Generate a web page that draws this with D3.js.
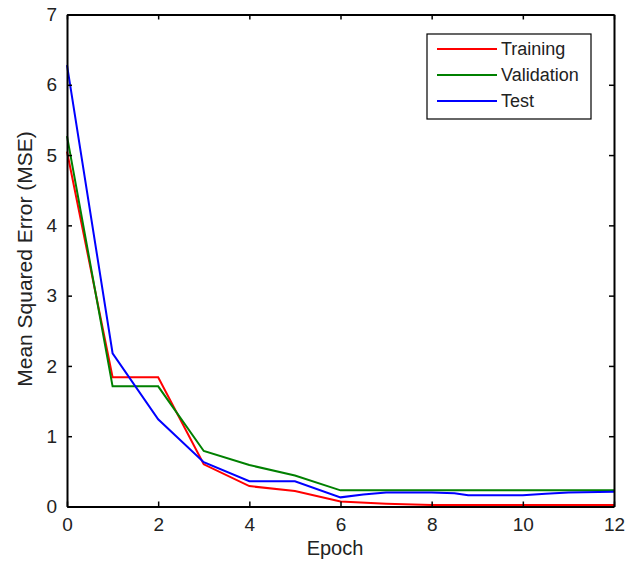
<!DOCTYPE html>
<html>
<head>
<meta charset="UTF-8">
<script src="https://d3js.org/d3.v7.min.js"></script>
<style>
  body { margin: 0; background: #fff; }
  text { font-family: "Liberation Sans", Arial, sans-serif; fill: #222; }
</style>
</head>
<body>
<svg width="634" height="562"></svg>
<script>
// data
var trainEpoch = [0, 1, 2, 3, 4, 5, 6, 7, 8, 12];
var trainMse   = [5.05, 1.84, 1.84, 0.60, 0.29, 0.22, 0.07, 0.04, 0.02, 0.02];

var validEpoch = [0, 1, 2, 3, 4, 5, 6, 12];
var validMse   = [5.27, 1.71, 1.71, 0.79, 0.59, 0.44, 0.23, 0.23];

var testEpoch = [0, 1, 2, 3, 4, 5, 6, 6.5, 7, 8, 8.5, 8.8, 10, 10.5, 11, 12];
var testMse   = [6.28, 2.18, 1.24, 0.63, 0.36, 0.36, 0.13, 0.17, 0.20, 0.20, 0.19, 0.16, 0.16, 0.18, 0.20, 0.21];

var xTicks = [0, 2, 4, 6, 8, 10, 12];
var yTicks = [0, 1, 2, 3, 4, 5, 6, 7];

var series = [
  { name: "Training",   xs: trainEpoch, ys: trainMse, color: "#ff0000" },
  { name: "Validation", xs: validEpoch, ys: validMse, color: "#008000" },
  { name: "Test",       xs: testEpoch,  ys: testMse,  color: "#0000ff" }
];

var svg = d3.select("svg");
var plotLeft = 67, plotRight = 614, plotTop = 14.5, plotBottom = 506.5;

var x = d3.scaleLinear().domain([0, 12]).range([plotLeft, plotRight]);
var y = d3.scaleLinear().domain([0, 7]).range([plotBottom, plotTop]);

// lines
var line = d3.line().x(function(d) { return x(d[0]); }).y(function(d) { return y(d[1]); });
series.forEach(function(s) {
  var pts = s.xs.map(function(v, i) { return [v, s.ys[i]]; });
  svg.append("path")
    .datum(pts)
    .attr("fill", "none")
    .attr("stroke", s.color)
    .attr("stroke-width", 2)
    .attr("d", line);
});

// axes (ticks inside, mirrored on top / right)
var tl = 5, fmt = d3.format("d");
svg.append("g").attr("transform", "translate(0," + plotBottom + ")")
  .call(d3.axisBottom(x).tickValues(xTicks).tickFormat(fmt).tickSizeInner(-tl).tickSizeOuter(0).tickPadding(11));
svg.append("g").attr("transform", "translate(0," + plotTop + ")")
  .call(d3.axisTop(x).tickValues(xTicks).tickSizeInner(-tl).tickSizeOuter(0).tickFormat(""));
svg.append("g").attr("transform", "translate(" + plotLeft + ",0)")
  .call(d3.axisLeft(y).tickValues(yTicks).tickFormat(fmt).tickSizeInner(-tl).tickSizeOuter(0).tickPadding(10));
svg.append("g").attr("transform", "translate(" + plotRight + ",0)")
  .call(d3.axisRight(y).tickValues(yTicks).tickSizeInner(-tl).tickSizeOuter(0).tickFormat(""));

svg.selectAll(".domain").attr("stroke", "#000").attr("stroke-width", 2);
svg.selectAll(".tick line").attr("stroke", "#000").attr("stroke-width", 1.5);
svg.selectAll(".tick text").attr("font-size", 19).attr("fill", "#222")
  .style("font-family", "'Liberation Sans', Arial, sans-serif");

// axis titles
svg.append("text")
  .attr("x", 335).attr("y", 555)
  .attr("text-anchor", "middle").attr("font-size", 20)
  .text("Epoch");
svg.append("text")
  .attr("transform", "translate(32,259) rotate(-90)")
  .attr("text-anchor", "middle").attr("font-size", 21)
  .text("Mean Squared Error (MSE)");

// legend
var lg = svg.append("g").attr("transform", "translate(427,34)");
lg.append("rect").attr("width", 164).attr("height", 85)
  .attr("fill", "#fff").attr("stroke", "#000").attr("stroke-width", 1.2);
series.forEach(function(s, i) {
  var yy = 15 + i * 26;
  lg.append("line").attr("x1", 10).attr("x2", 70).attr("y1", yy).attr("y2", yy)
    .attr("stroke", s.color).attr("stroke-width", 2);
  lg.append("text").attr("x", 74).attr("y", yy + 6).attr("font-size", 18).text(s.name);
});
</script>
</body>
</html>
